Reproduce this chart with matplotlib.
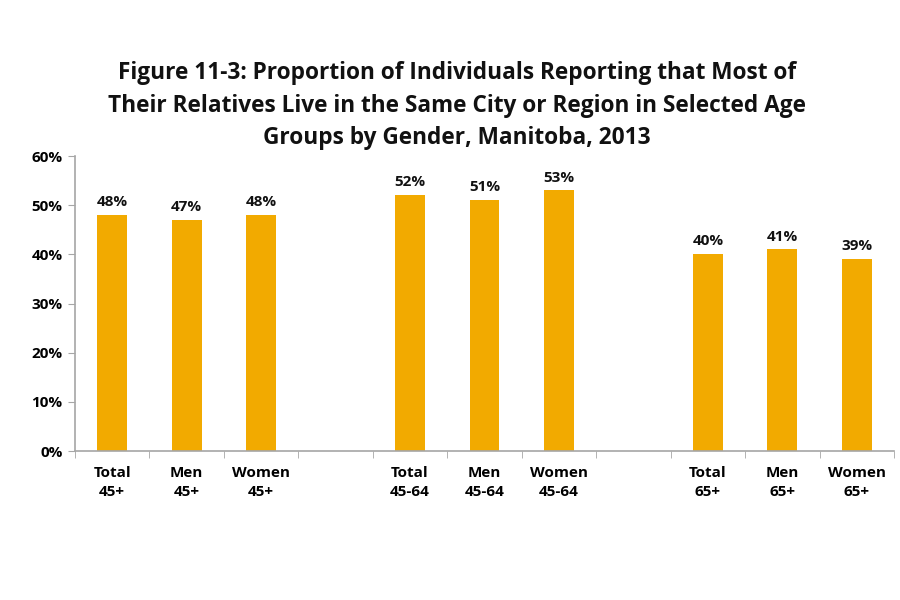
import numpy as np
import matplotlib.pyplot as plt
from matplotlib.ticker import PercentFormatter, FixedLocator

plt.rcParams['font.family'] = ['Open Sans', 'DejaVu Sans']

title = ("Figure 11-3: Proportion of Individuals Reporting that Most of\n"
         "Their Relatives Live in the Same City or Region in Selected Age\n"
         "Groups by Gender, Manitoba, 2013")

groups = ['45+', '45-64', '65+']
genders = ['Total', 'Men', 'Women']
values = [48, 47, 48, 52, 51, 53, 40, 41, 39]

bar_color = '#F2AA00'
axis_color = '#A6A6A6'

labels = []
pos = []
for g, grp in enumerate(groups):
    for i, gen in enumerate(genders):
        labels.append(gen + '\n' + grp)
        pos.append(g * 4 + i)
pos = np.array(pos)

fig = plt.figure(figsize=(9, 6), dpi=100)
ax = fig.add_axes([0.0833, 0.2483, 0.91, 0.4917])

bars = ax.bar(pos, values, width=0.4, color=bar_color, zorder=2)
for b, v in zip(bars, values):
    ax.text(b.get_x() + b.get_width() / 2, v + 1.2, f'{v}%', ha='center', va='bottom',
            fontsize=11, fontweight='bold', color='#111111')

ax.set_xlim(-0.5, 10.5)
ax.set_ylim(0, 60)
ax.set_yticks(np.arange(0, 61, 10))
ax.yaxis.set_major_formatter(PercentFormatter(decimals=0))
ax.set_xticks(pos)
ax.set_xticklabels(labels, fontsize=11, fontweight='bold', linespacing=1.45)
ax.tick_params(axis='x', which='major', length=0, pad=11)
ax.xaxis.set_minor_locator(FixedLocator(np.arange(-0.5, 11, 1)))
ax.tick_params(axis='x', which='minor', length=5, color=axis_color)
ax.tick_params(axis='y', length=5, color=axis_color, labelsize=11, pad=4)
for lab in ax.get_yticklabels():
    lab.set_fontweight('bold')

for s in ['top', 'right']:
    ax.spines[s].set_visible(False)
for s in ['left', 'bottom']:
    ax.spines[s].set_color(axis_color)
    ax.spines[s].set_linewidth(1.2)

fig.text(0.508, 0.898, title, ha='center', va='top', fontsize=16.3, fontweight='bold',
         linespacing=1.48, color='#111111')

fig.savefig('out.png', dpi=100)
